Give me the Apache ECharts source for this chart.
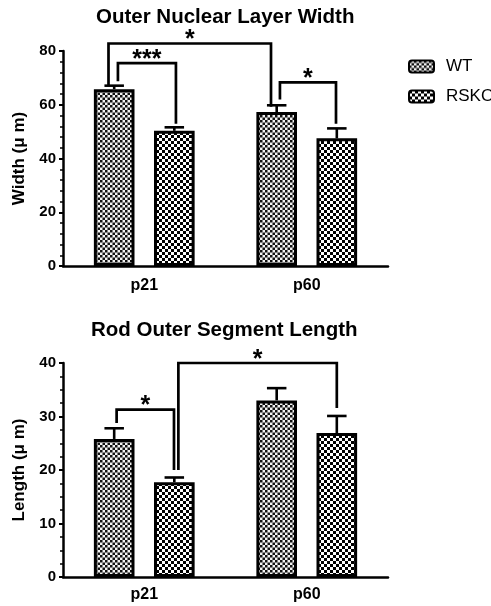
<!DOCTYPE html>
<html>
<head>
<meta charset="utf-8">
<script src="https://cdn.jsdelivr.net/npm/echarts@6/dist/echarts.min.js"></script>
<style>
html,body{margin:0;padding:0;background:#fff;}
#chart{width:491px;height:606px;}
</style>
</head>
<body>
<div id="chart"></div>
<script>
// ---------- data ----------
const categories = ['p21', 'p60'];
const seriesNames = ['WT', 'RSKO'];

// Outer Nuclear Layer Width (µm)
const onlWT = [65.8, 57.3];
const onlWTErr = [1.3, 2.5];
const onlRSKO = [50.3, 47.5];
const onlRSKOErr = [1.3, 3.7];

// Rod Outer Segment Length (µm)
const rosWT = [25.8, 33.0];
const rosWTErr = [2.0, 2.3];
const rosRSKO = [17.7, 26.9];
const rosRSKOErr = [0.9, 3.2];

// y axis ticks
const onlTicks = {min: 0, max: 80, interval: 20};
const rosTicks = {min: 0, max: 40, interval: 10};

// significance brackets: x in category units, y in data units
const onlBrackets = [
  {x0: -0.22, x1: 0.78, top: 82.8, end0: 67.3, end1: 59.3, label: '*'},
  {x0: -0.162, x1: 0.195, top: 75.5, end0: 68.7, end1: 52.9, label: '***'},
  {x0: 0.835, x1: 1.18, top: 68.3, end0: 62.0, end1: 52.9, label: '*'}
];
const rosBrackets = [
  {x0: -0.17, x1: 0.183, top: 31.3, end0: 28.8, end1: 20.0, label: '*'},
  {x0: 0.21, x1: 1.185, top: 40.0, end0: 20.0, end1: 31.6, label: '*'}
];

// ---------- styles ----------
const FONT = 'Liberation Sans';
const BAR_CAT_GAP = 0.38;
const BAR_GAP = 0.48;

function checker(size, sq, c1, c2) {
  const cv = document.createElement('canvas');
  cv.width = size; cv.height = size;
  const ctx = cv.getContext('2d');
  ctx.fillStyle = c2; ctx.fillRect(0, 0, size, size);
  ctx.fillStyle = c1;
  ctx.fillRect(0, 0, sq, sq);
  ctx.fillRect(sq, sq, size - sq, size - sq);
  return cv;
}
const wtPattern = {image: checker(5, 2.5, '#111', '#f2f2f2'), repeat: 'repeat'};
const rsPattern = {image: checker(6, 3, '#000', '#fff'), repeat: 'repeat'};

function barCenter(api, cat, slot) {
  const band = api.size([1, 0])[0];
  const remained = band * (1 - BAR_CAT_GAP);
  const w = remained / (2 + BAR_GAP);
  const total = 2 * w + w * BAR_GAP;
  const off = -total / 2 + slot * (w + w * BAR_GAP) + w / 2;
  return {x: api.coord([cat, 0])[0] + off, w: w};
}

function errorSeries(name, means, errs, slot, gridIdx) {
  return {
    type: 'custom',
    name: name + ' err',
    xAxisIndex: gridIdx, yAxisIndex: gridIdx,
    clip: false, z: 1, silent: true,
    data: means.map((m, i) => [i, m + errs[i], m]),
    renderItem: function (params, api) {
      const cat = api.value(0);
      const bc = barCenter(api, cat, slot);
      const yTop = api.coord([cat, api.value(1)])[1];
      const yBase = api.coord([cat, api.value(2)])[1];
      const half = bc.w * 0.24;
      const st = {stroke: '#000', lineWidth: 2.6};
      return {type: 'group', children: [
        {type: 'line', shape: {x1: bc.x, y1: yBase, x2: bc.x, y2: yTop}, style: st},
        {type: 'line', shape: {x1: bc.x - half, y1: yTop, x2: bc.x + half, y2: yTop}, style: st}
      ]};
    }
  };
}

function bracketSeries(brackets, gridIdx) {
  return {
    type: 'custom',
    xAxisIndex: gridIdx, yAxisIndex: gridIdx,
    clip: false, z: 5, silent: true,
    data: brackets.map(b => [0, b.top]),
    renderItem: function (params, api) {
      const b = brackets[params.dataIndex];
      const band = api.size([1, 0])[0];
      const cx = api.coord([0, 0])[0];
      const xa = cx + b.x0 * band, xb = cx + b.x1 * band;
      const yt = api.coord([0, b.top])[1];
      const ya = api.coord([0, b.end0])[1];
      const yb = api.coord([0, b.end1])[1];
      return {type: 'group', children: [
        {type: 'polyline', shape: {points: [[xa, ya], [xa, yt], [xb, yt], [xb, yb]]},
          style: {stroke: '#000', lineWidth: 2.7, fill: null, lineJoin: 'miter'}},
        {type: 'text', x: (xa + xb) / 2, y: yt - 3,
          style: {text: b.label, font: 'bold 25px ' + FONT, fill: '#000',
            align: 'center', verticalAlign: 'middle'}}
      ]};
    }
  };
}

function barSeries(name, values, pattern, gridIdx) {
  return {
    type: 'bar', name: name,
    xAxisIndex: gridIdx, yAxisIndex: gridIdx,
    data: values,
    barCategoryGap: (BAR_CAT_GAP * 100) + '%',
    barGap: (BAR_GAP * 100) + '%',
    itemStyle: {color: pattern, borderColor: '#000', borderWidth: 3},
    emphasis: {disabled: true}
  };
}

function yAxis(gridIdx, ticks, name, minorSplit) {
  return {
    type: 'value', gridIndex: gridIdx,
    min: ticks.min, max: ticks.max, interval: ticks.interval,
    name: name, nameLocation: 'middle', nameGap: 35,
    nameTextStyle: {fontFamily: FONT, fontWeight: 'bold', fontSize: 17, color: '#000'},
    axisLine: {show: true, lineStyle: {color: '#000', width: 2.5}},
    axisTick: {show: true, length: 4, lineStyle: {color: '#000', width: 2}},
    minorTick: {show: true, splitNumber: minorSplit, length: 3, lineStyle: {color: '#000', width: 1.5}},
    splitLine: {show: false},
    axisLabel: {fontFamily: FONT, fontWeight: 'bold', fontSize: 15, color: '#000', margin: 7}
  };
}

function xAxis(gridIdx, margin) {
  return {
    type: 'category', gridIndex: gridIdx, data: categories,
    axisLine: {lineStyle: {color: '#000', width: 2.5}},
    axisTick: {show: false},
    axisLabel: {fontFamily: FONT, fontWeight: 'bold', fontSize: 16, color: '#000', margin: margin}
  };
}

const chart = echarts.init(document.getElementById('chart'), null, {renderer: 'canvas'});
chart.setOption({
  animation: false,
  backgroundColor: '#fff',
  title: [
    {text: 'Outer Nuclear Layer Width', left: 96, top: 7, padding: 0,
      textStyle: {fontFamily: FONT, fontWeight: 'bold', fontSize: 20.5, color: '#000'}},
    {text: 'Rod Outer Segment Length', left: 91, top: 320, padding: 0,
      textStyle: {fontFamily: FONT, fontWeight: 'bold', fontSize: 20.5, color: '#000'}}
  ],
  legend: {
    data: seriesNames, orient: 'vertical', left: 408, top: 58, padding: 0,
    itemWidth: 25, itemHeight: 12, itemGap: 13, icon: 'roundRect',
    textStyle: {fontFamily: FONT, fontSize: 17, color: '#000', padding: [0, 0, 0, 7]},
    selectedMode: false
  },
  grid: [
    {left: 63, top: 51, width: 325, height: 215},
    {left: 63, top: 363, width: 325, height: 214}
  ],
  xAxis: [xAxis(0, 12), xAxis(1, 10)],
  yAxis: [yAxis(0, onlTicks, 'Width (μ m)', 5), yAxis(1, rosTicks, 'Length (μ m)', 4)],
  series: [
    barSeries('WT', onlWT, wtPattern, 0),
    barSeries('RSKO', onlRSKO, rsPattern, 0),
    barSeries('WT', rosWT, wtPattern, 1),
    barSeries('RSKO', rosRSKO, rsPattern, 1),
    errorSeries('WT', onlWT, onlWTErr, 0, 0),
    errorSeries('RSKO', onlRSKO, onlRSKOErr, 1, 0),
    errorSeries('WT', rosWT, rosWTErr, 0, 1),
    errorSeries('RSKO', rosRSKO, rosRSKOErr, 1, 1),
    bracketSeries(onlBrackets, 0),
    bracketSeries(rosBrackets, 1)
  ]
});
</script>
</body>
</html>
